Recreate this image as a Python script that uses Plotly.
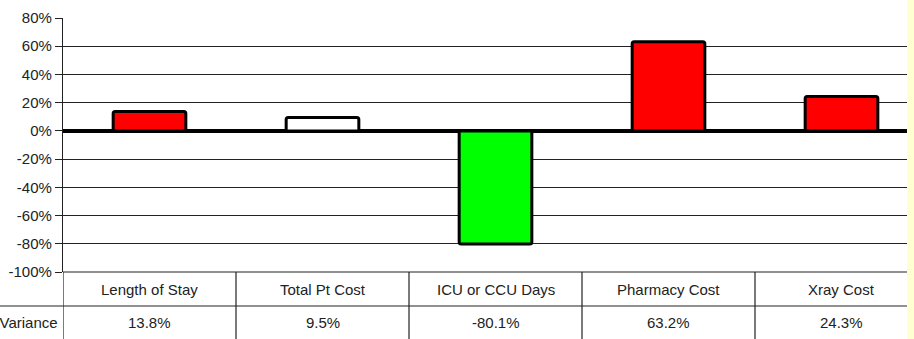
import plotly.graph_objects as go

categories = ["Length of Stay", "Total Pt Cost", "ICU or CCU Days", "Pharmacy Cost", "Xray Cost"]
variance = [13.8, 9.5, -80.1, 63.2, 24.3]
bar_colors = ["#FF0000", "#FFFFFF", "#00FF00", "#FF0000", "#FF0000"]
row_label = "% Variance"
tick_vals = [80, 60, 40, 20, 0, -20, -40, -60, -80, -100]
tick_text = [f"{v}%" for v in tick_vals]

FONT = "Liberation Sans, Arial, sans-serif"
W, H = 914, 339
L, T, B = 63, 18, 67
plot_h = H - T - B
col_w_px = 173.0
x_lo = -0.5
x_hi = x_lo + (W - L) / col_w_px

def py(pixel_y):
    return (H - B - pixel_y) / plot_h

xs = list(range(len(categories)))
fig = go.Figure()
fig.add_trace(go.Bar(
    x=xs, y=variance, width=0.42,
    marker=dict(color=bar_colors, line=dict(color="#000000", width=3)),
    hoverinfo="skip", showlegend=False,
))

shapes = []
LINE = dict(color="#222", width=1.2)
# bottom border of plot (at -100%)
shapes.append(dict(type="line", xref="paper", yref="paper", x0=0, x1=1, y0=0, y1=0, line=LINE))
# table lines
y_row1_bottom = py(306)
y_table_bottom = py(345)
shapes.append(dict(type="line", xref="paper", yref="paper", x0=-L / (W - L), x1=1,
                   y0=y_row1_bottom, y1=y_row1_bottom, line=LINE))
for b in [x_lo] + [i + 0.5 for i in range(len(categories))]:
    shapes.append(dict(type="line", xref="x", yref="paper", x0=b, x1=b,
                       y0=0, y1=y_table_bottom, line=LINE))
# yellow right strip
shapes.append(dict(type="rect", xref="paper", yref="paper", x0=(907 - L) / (W - L), x1=1.01,
                   y0=py(H + 5), y1=py(-5), fillcolor="#FFFFD2", line=dict(width=0), layer="above"))

TF = dict(family=FONT, size=15, color="#222")
annotations = []
for i, (c, v) in enumerate(zip(categories, variance)):
    annotations.append(dict(x=i, y=py(289), xref="x", yref="paper", text=c, showarrow=False,
                            xanchor="center", yanchor="middle", font=TF))
    annotations.append(dict(x=i, y=py(322), xref="x", yref="paper", text=f"{v:.1f}%", showarrow=False,
                            xanchor="center", yanchor="middle", font=TF))
annotations.append(dict(x=-3 / (W - L), y=py(322), xref="paper", yref="paper", text=row_label,
                        showarrow=False, xanchor="right", yanchor="middle", font=TF))

fig.update_layout(
    width=W, height=H,
    margin=dict(l=L, r=0, t=T, b=B),
    paper_bgcolor="white", plot_bgcolor="white",
    barcornerradius=2,
    shapes=shapes, annotations=annotations,
    xaxis=dict(range=[x_lo, x_hi], showticklabels=False, showgrid=False, zeroline=False,
               showline=False, fixedrange=True),
    yaxis=dict(range=[-100, 80], tickvals=tick_vals, ticktext=tick_text,
               showgrid=True, gridcolor="#222", gridwidth=1,
               zeroline=True, zerolinecolor="#000", zerolinewidth=4,
               showline=True, linecolor="#222", linewidth=1.2,
               ticks="outside", ticklen=7, tickcolor="#222",
               tickfont=dict(family=FONT, size=15, color="#222"), fixedrange=True),
)
fig.write_html("out.html")
